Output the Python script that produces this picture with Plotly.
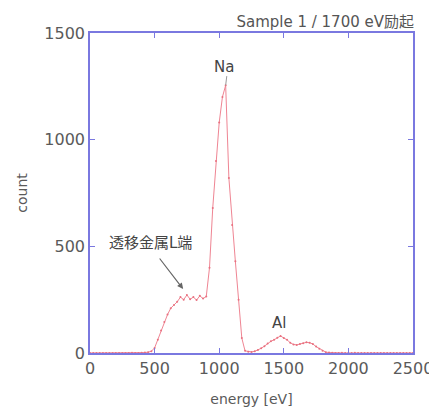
import plotly.graph_objects as go

energy = list(range(0, 2525, 25))
counts = [
    0, 0, 0, 0, 0, 0, 0, 0, 0, 0,          # 0-225
    0, 0, 0, 1, 0, 0, 1, 2, 4, 8,          # 250-475
    24, 62, 105, 145, 180, 210, 225, 240, 262, 250,  # 500-725
    272, 252, 262, 248, 268, 255, 265, 400, 680, 900,  # 750-975
    1080, 1200, 1255, 820, 600, 430, 250, 70, 10, 6,   # 1000-1225
    5, 8, 14, 22, 32, 45, 55, 62, 72, 80,              # 1250-1475
    70, 62, 48, 40, 38, 42, 46, 50, 48, 42,            # 1500-1725
    30, 20, 10, 4, 2, 1, 0, 0, 1, 0,                   # 1750-1975
    0, 0, 1, 0, 0, 0, 0, 0, 0, 0,                      # 2000-2225
    0, 0, 0, 0, 0, 0, 0, 0, 0, 0,                      # 2250-2475
    0,                                                 # 2500
]

x_ticks = [0, 500, 1000, 1500, 2000, 2500]
y_ticks = [0, 500, 1000, 1500]

title_text = "Sample 1 / 1700 eV励起"
label_na = "Na"
label_al = "Al"
label_tm = "透移金属L端"

font_family = "DejaVu Sans, Noto Sans CJK JP, sans-serif"
grey = "#5a5a5a"
frame = "#7a78e0"

W, H = 429, 399  # page body adds an 8px offset

fig = go.Figure()
fig.add_trace(go.Scatter(
    x=energy, y=counts, mode="lines+markers",
    line=dict(color="#ef8593", width=1),
    marker=dict(color="#e9707f", size=2),
    showlegend=False,
))

fig.add_annotation(x=1050, y=1255, ax=1060, ay=1305, axref="x", ayref="y",
                   text="", showarrow=True, arrowhead=0, arrowwidth=1, arrowcolor="#999999")
fig.add_annotation(x=1039, y=1341, text=label_na, showarrow=False,
                   font=dict(size=15, color="#444444", family=font_family))
fig.add_annotation(x=1465, y=141, text=label_al, showarrow=False,
                   font=dict(size=15, color="#444444", family=font_family))
fig.add_annotation(x=465, y=516, text=label_tm, showarrow=False,
                   font=dict(size=15, color="#444444", family=font_family))
fig.add_annotation(x=721, y=300, ax=530, ay=450, axref="x", ayref="y",
                   text="", showarrow=True, arrowhead=2, arrowsize=1, arrowwidth=1.2,
                   arrowcolor="#666666")

fig.update_layout(
    width=W, height=H,
    margin=dict(l=82, r=24, t=25, b=54),
    paper_bgcolor="white", plot_bgcolor="white",
    font=dict(family=font_family, size=16, color=grey),
    title=dict(text=title_text, x=(414 - 8) / W, xanchor="right", y=1 - 14 / H, yanchor="middle",
               font=dict(size=15, color="#555555", family=font_family)),
)
fig.update_xaxes(
    range=[0, 2500], tickvals=x_ticks, showgrid=False, zeroline=False, automargin=False,
    showline=True, linecolor=frame, linewidth=1.5, mirror="ticks",
    ticks="inside", ticklen=5, tickcolor=frame,
    title=dict(text="energy [eV]", font=dict(size=14, color=grey), standoff=17),
    tickfont=dict(size=16, color=grey),
)
fig.update_yaxes(
    range=[0, 1500], tickvals=y_ticks, showgrid=False, zeroline=False, automargin=False,
    showline=True, linecolor=frame, linewidth=1.5, mirror="ticks",
    ticks="inside", ticklen=5, tickcolor=frame,
    title=dict(text="count", font=dict(size=14, color=grey), standoff=13),
    tickfont=dict(size=16, color=grey),
)

fig.write_html("out.html")
